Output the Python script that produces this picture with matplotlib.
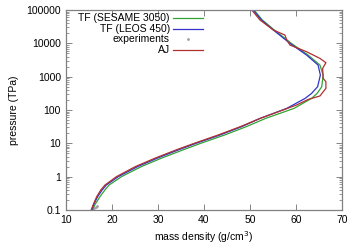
import matplotlib
matplotlib.use('Agg')
import matplotlib.pyplot as plt
from matplotlib.ticker import FuncFormatter, LogLocator, NullFormatter
import numpy as np

plt.rcParams['font.family'] = ['Liberation Sans', 'DejaVu Sans']
plt.rcParams['font.size'] = 7.5

# pressure (TPa) for each point, with densities (g/cm^3) read for each curve
p_blue = [0.1, 0.15, 0.25, 0.4, 0.56, 1.0, 2.0, 3.55, 6.3, 10, 17.8, 31.6, 56, 112, 224, 316, 500, 1120, 2240, 4470, 10000, 25100, 50100, 100000]
rho_blue = [15.6, 16.1, 16.9, 17.9, 18.8, 21.4, 25.6, 29.8, 34.4, 38.3, 43.5, 48.2, 52.2, 58.0, 62.0, 63.4, 64.7, 65.3, 64.8, 62.3, 58.7, 55.1, 52.5, 50.7]

p_green = p_blue
rho_green = [15.7, 16.4, 17.4, 18.5, 19.4, 22.1, 26.4, 30.7, 35.4, 39.3, 44.5, 49.2, 53.4, 59.6, 63.4, 64.6, 65.6, 65.9, 65.2, 62.6, 59.0, 55.3, 52.7, 50.9]

p_red = [0.1, 0.15, 0.25, 0.4, 0.56, 1.0, 2.0, 3.55, 6.3, 10, 17.8, 31.6, 56, 100, 141, 209, 263, 447, 708, 891, 1780, 2630, 3550, 5620, 8910, 12600, 17800, 25100, 50100, 100000]
rho_red = [15.5, 16.0, 16.7, 17.6, 18.5, 21.0, 25.1, 29.3, 33.9, 37.9, 43.1, 47.9, 52.2, 57.2, 60.1, 62.7, 65.2, 66.5, 66.5, 65.9, 65.8, 66.5, 65.2, 62.3, 58.7, 58.0, 57.6, 55.1, 52.2, 50.4]

p_exp = [0.105, 0.115, 0.125, 0.135]
rho_exp = [15.9, 16.2, 16.5, 16.8]

labels = ['TF (SESAME 3050)', 'TF (LEOS 450)', 'experiments', 'AJ']
colors = ['#33a333', '#3333cc', '#a0a0a0', '#b03030']

fig = plt.figure(figsize=(3.6, 2.52), dpi=100)
ax = fig.add_axes([0.183, 0.167, 0.767, 0.793])

ax.plot(rho_exp, p_exp, 'o', color=colors[2], ms=2, mew=0)
ax.plot(rho_green, p_green, color=colors[0], lw=0.9)
ax.plot(rho_blue, p_blue, color=colors[1], lw=0.9)
ax.plot(rho_red, p_red, color=colors[3], lw=0.9)

ax.set_yscale('log')
ax.set_xlim(10, 70)
ax.set_ylim(0.1, 100000)
ax.set_xticks(np.arange(10, 71, 10))
ax.yaxis.set_major_locator(LogLocator(base=10, numticks=10))
ax.yaxis.set_minor_locator(LogLocator(base=10, subs=np.arange(2, 10), numticks=20))
ax.yaxis.set_minor_formatter(NullFormatter())
ax.yaxis.set_major_formatter(FuncFormatter(lambda v, pos: '%g' % v))
ax.tick_params(which='both', direction='in', top=True, right=True, colors='#707070', labelcolor='black')
ax.tick_params(which='major', length=4, width=0.6)
ax.tick_params(which='minor', length=2, width=0.5)
for s in ax.spines.values():
    s.set_color('#808080')
    s.set_linewidth(0.9)

ax.set_xlabel('mass density (g/cm$^3$)', labelpad=3)
ax.set_ylabel('pressure (TPa)', labelpad=5)

# gnuplot style key: text right aligned, sample on the right
ys = [0.96, 0.905, 0.855, 0.80]
for i in range(4):
    ax.text(0.377, ys[i], labels[i], transform=ax.transAxes, ha='right', va='center')
    if i == 2:
        ax.plot([0.442], [ys[i]], 'o', color=colors[i], ms=2, mew=0, transform=ax.transAxes)
    else:
        ax.plot([0.388, 0.496], [ys[i], ys[i]], color=colors[i], lw=0.9, transform=ax.transAxes)

plt.savefig('out.png', dpi=100)
